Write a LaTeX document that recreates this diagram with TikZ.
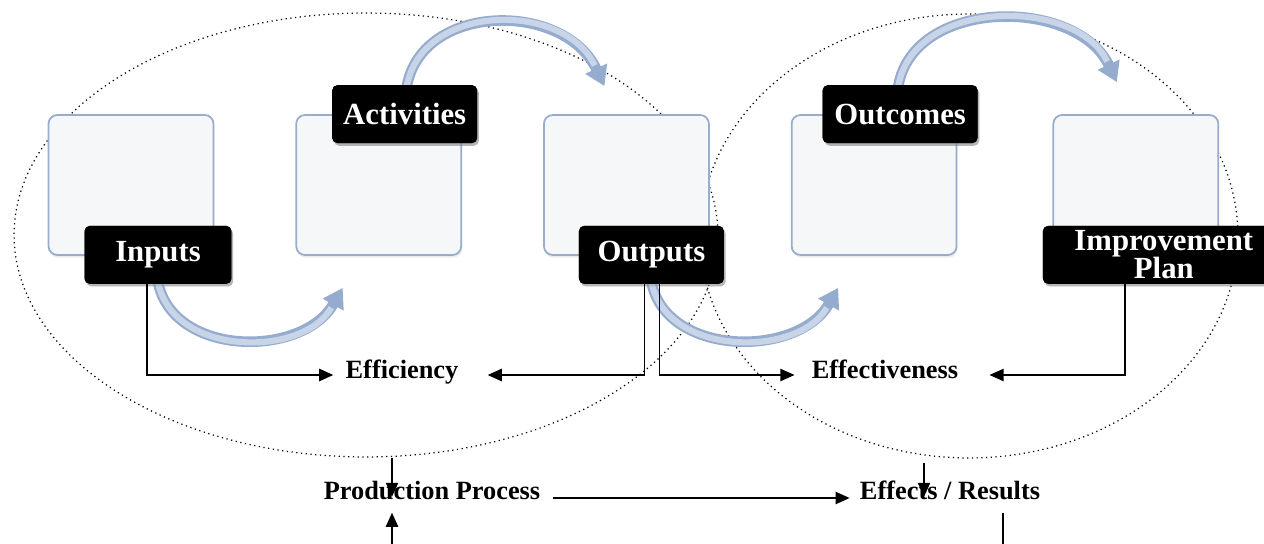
\documentclass[tikz,border=0pt]{standalone}
\usepackage{fontspec}
\setmainfont{Liberation Serif}
\usetikzlibrary{arrows.meta,calc,positioning,shapes.geometric,shadows}

\definecolor{panelline}{RGB}{152,172,204}
\definecolor{panelfill}{RGB}{246,247,249}
\definecolor{arcdark}{RGB}{150,172,206}
\definecolor{arclight}{RGB}{200,213,232}

\tikzset{
  panel/.style={draw=panelline, fill=panelfill, line width=1pt, rounded corners=5pt,
                minimum width=3.3cm, minimum height=2.8cm,
                drop shadow={opacity=0.15, shadow xshift=0.5pt, shadow yshift=-1.5pt}},
  tag/.style={fill=black, text=white, rounded corners=3pt, minimum width=2.9cm, minimum height=1.16cm,
              inner sep=0pt, align=center, font=\fontsize{17.5}{16}\selectfont\bfseries,
              drop shadow={opacity=0.35, shadow xshift=1pt, shadow yshift=-1.5pt}},
  ring/.style={ellipse, draw, dotted, line width=0.7pt, inner sep=0pt},
  result/.style={font=\fontsize{15}{18}\selectfont\bfseries, inner sep=0pt, text height=0.7em, text depth=0.25em},
  link/.style={->, line width=0.8pt},
  sweep/.style={line width=6pt, draw=arcdark, -{Triangle[length=11pt,width=13pt]},
                postaction={draw=arclight, line width=3.5pt, -, shorten >=13pt}},
}

\begin{document}
\begin{tikzpicture}[x=0.02cm, y=-0.02cm, >={Triangle[length=8pt,width=7pt]}, node distance=1.62cm]
\useasboundingbox (0,0) rectangle (1264,544);

\node[ring, minimum width=14.08cm, minimum height=8.88cm] (leftring)  at (366,235) {};
\node[ring, minimum width=10.76cm, minimum height=8.88cm] (rightring) at (969,236) {};

\node[panel] (box1) at (131,185) {};
\node[panel] (box2) [right=of box1] {};
\node[panel] (box3) [right=of box2] {};
\node[panel] (box4) [right=of box3] {};
\node[panel] (box5) [right=1.9cm of box4] {};

\node[tag, minimum width=2.94cm] (inputs)      at ($(box1.south)+(27,-1)$) {};
\node[tag]                       (activities)  at ($(box2.north)+(26,0)$)  {};
\node[tag]                       (outputs)     at ($(box3.south)+(25,-1)$) {};
\node[tag, minimum width=3.1cm]  (outcomes)    at ($(box4.north)+(26,0)$)  {};
\node[tag, minimum width=4.84cm] (improvement) at ($(box5.south)+(28,-1)$) {};

\draw[sweep] ($(activities.north)+(2,2)$) .. controls +(15,-85) and +(-40,-85) .. ($(box3.north)+(-22,-28)$);
\draw[sweep] ($(outcomes.north)+(-2,2)$)  .. controls +(15,-90) and +(-40,-85) .. ($(box5.north)+(-19,-32)$);
\draw[sweep] ($(inputs.south)+(0,-2)$)    .. controls +(15,75)   and +(-40,70)  .. ($(box2.south)+(-36,32)$);
\draw[sweep] ($(outputs.south)+(0,-2)$)   .. controls +(15,75)   and +(-40,70)  .. ($(box4.south)+(-36,32)$);

\node[tag, minimum width=2.94cm] at (inputs)      {Inputs};
\node[tag]                       at (activities)  {Activities};
\node[tag]                       at (outputs)     {Outputs};
\node[tag, minimum width=3.1cm]  at (outcomes)    {Outcomes};
\node[tag, minimum width=4.84cm] at (improvement) {Improvement\\Plan};

\node[result] (efficiency)    at (402,375) {Efficiency};
\node[result] (effectiveness) at (885,375) {Effectiveness};
\node[result] (production)    at (432,496) {Production Process};
\node[result] (effects)       at (950,496) {Effects / Results};

\coordinate (prodin)     at ($(production.north)+(-40,9.5)$);
\coordinate (prodfeed)   at (392,548);
\coordinate (effin)      at ($(effects.north)+(-26,9.5)$);
\coordinate (resultsout) at (1003,548);

\draw[link] ($(inputs.south)+(-11,-16)$) |- ($(efficiency.west)+(-12,0)$);
\draw[link] ($(outputs.south)+(-7,0)$) |- ($(efficiency.east)+(29,0)$);
\draw[link] ($(outputs.south)+(8,0)$) |- ($(effectiveness.west)+(-17,0)$);
\draw[link] ($(improvement.south)+(-39,-3)$) |- ($(effectiveness.east)+(31,0)$);

\draw[link] (leftring.south -| prodin) -- (prodin);
\draw[link] (prodfeed) -- ($(production.south)+(-40,8)$);
\draw[link] ($(production.east)+(12,2)$) -- ($(effects.west)+(-10,2)$);
\draw[link] ($(rightring.south -| effin)+(0,4)$) -- (effin);
\draw[line width=0.8pt] ($(effects.south)+(53,8)$) -- (resultsout);

\end{tikzpicture}
\end{document}
